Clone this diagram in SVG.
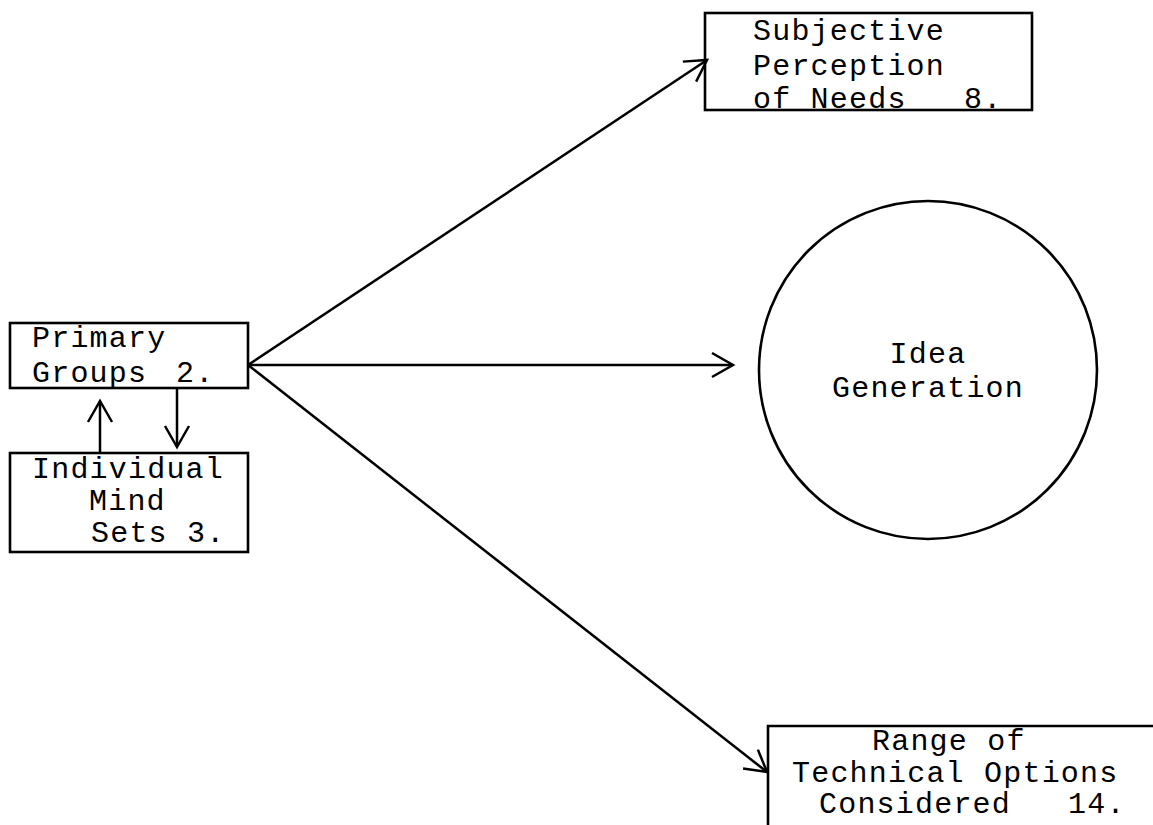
<svg xmlns="http://www.w3.org/2000/svg" width="1153" height="825" viewBox="0 0 1153 825">
<style>
.box{fill:none;stroke:#000;stroke-width:2.6}
.t{font-family:"Liberation Mono","Courier New",monospace;font-size:30px;letter-spacing:1.2px;fill:#000}
.c{fill:none;stroke:#000;stroke-width:2.5}
</style>
<defs>
<marker id="ah" markerUnits="userSpaceOnUse" viewBox="-24 -14 28 28" refX="0" refY="0" markerWidth="28" markerHeight="28" orient="auto">
<path d="M-21,-12 L0,0 L-21,12" fill="none" stroke="#000" stroke-width="2.5" stroke-linejoin="miter"/>
</marker>
</defs>
<rect width="1153" height="825" fill="#fff"/>
<g id="node-subjective">
<rect class="box" x="705" y="13" width="327" height="97"/>
<text class="t" x="753" y="40">Subjective</text>
<text class="t" x="753" y="75">Perception</text>
<text class="t" x="753" y="108">of Needs <tspan x="964">8.</tspan></text>
</g>
<g id="node-primary">
<rect class="box" x="10" y="323" width="238" height="65"/>
<text class="t" x="32" y="347">Primary</text>
<text class="t" x="32" y="382">Groups <tspan x="176">2.</tspan></text>
</g>
<g id="node-individual">
<rect class="box" x="10" y="453" width="238" height="99"/>
<text class="t" x="32" y="478">Individual</text>
<text class="t" x="89" y="510">Mind</text>
<text class="t" x="91" y="542">Sets 3.</text>
</g>
<g id="node-idea">
<circle class="box" cx="928" cy="370" r="169"/>
<text class="t" x="928" y="363" text-anchor="middle">Idea</text>
<text class="t" x="928" y="397" text-anchor="middle">Generation</text>
</g>
<g id="node-range">
<path class="box" d="M768,830 L768,726 L1160,726"/>
<text class="t" x="872" y="750">Range of</text>
<text class="t" x="792" y="782">Technical Options</text>
<text class="t" x="819" y="813">Considered <tspan x="1068">14.</tspan></text>
</g>
<g id="connectors">
<line class="c" x1="248" y1="365" x2="707" y2="60" marker-end="url(#ah)"/>
<line class="c" x1="248" y1="365" x2="733" y2="365" marker-end="url(#ah)"/>
<line class="c" x1="248" y1="365" x2="767" y2="772" marker-end="url(#ah)"/>
<line class="c" x1="100" y1="453" x2="100" y2="401" marker-end="url(#ah)"/>
<line class="c" x1="177" y1="388" x2="177" y2="447" marker-end="url(#ah)"/>
</g>
</svg>
